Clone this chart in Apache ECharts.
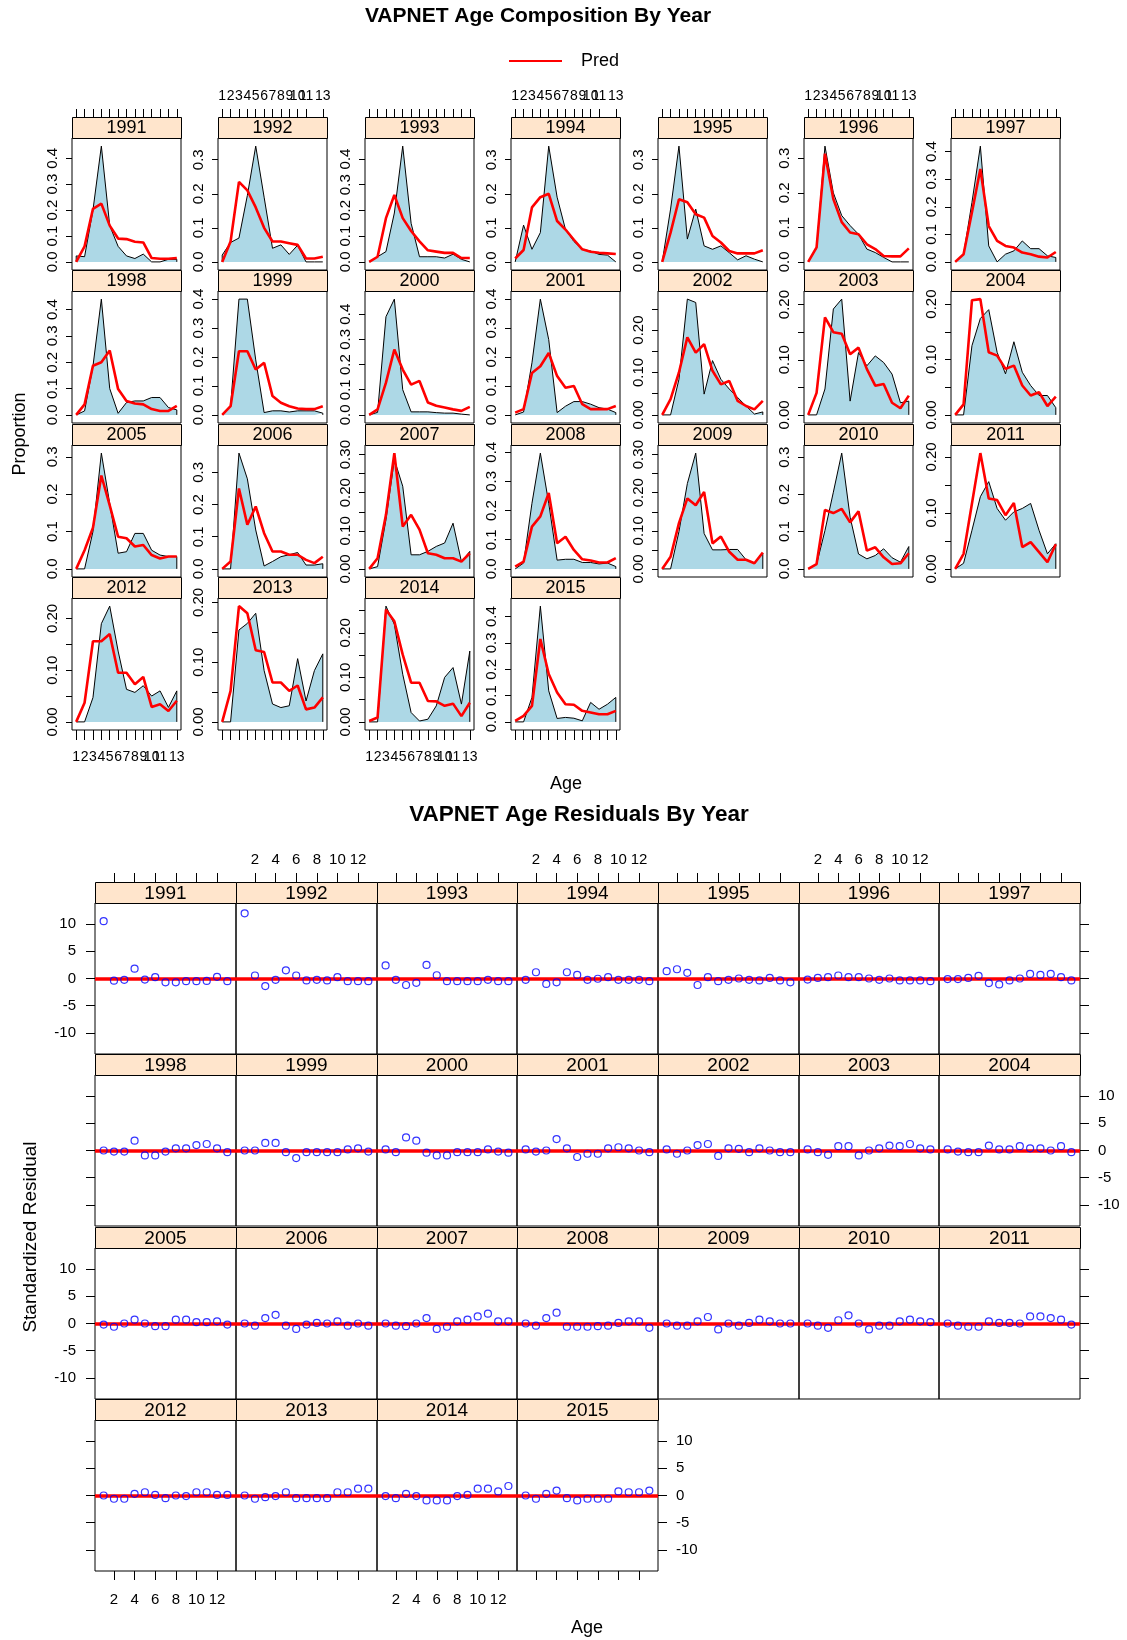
<!DOCTYPE html>
<html><head><meta charset="utf-8">
<script src="https://cdn.jsdelivr.net/npm/echarts@6/dist/echarts.min.js"></script>
<style>html,body{margin:0;padding:0;background:#fff}#c{width:1127px;height:1640px}</style>
</head><body><div id="c"></div>
<script>
// ---------------- DATA ----------------
const years = [1991,1992,1993,1994,1995,1996,1997,1998,1999,2000,2001,2002,2003,2004,2005,2006,2007,2008,2009,2010,2011,2012,2013,2014,2015];
const ages = [1,2,3,4,5,6,7,8,9,10,11,12,13];

// observed proportion at age, one row per year
const observed = [
  [0.023,0.02,0.2,0.447,0.14,0.06,0.023,0.013,0.03,0.0,0.0,0.01,0.01],      //1991
  [0.02,0.057,0.07,0.195,0.34,0.19,0.04,0.05,0.022,0.049,0.0,0.0,0.0],      //1992
  [0.0,0.02,0.04,0.19,0.45,0.15,0.02,0.02,0.02,0.015,0.03,0.01,0.0],        //1993
  [0.0,0.108,0.037,0.086,0.34,0.19,0.095,0.06,0.037,0.032,0.022,0.02,0.0],  //1994
  [0.0,0.155,0.34,0.067,0.155,0.047,0.037,0.047,0.027,0.006,0.018,0.008,0.0], //1995
  [0.0,0.04,0.335,0.2,0.134,0.105,0.08,0.037,0.027,0.013,0.0,0.0,0.0],      //1996
  [0.0,0.028,0.216,0.42,0.058,0.0,0.028,0.04,0.076,0.048,0.048,0.022,0.016],//1997
  [0.0,0.015,0.185,0.44,0.1,0.006,0.047,0.053,0.053,0.066,0.066,0.028,0.019], //1998
  [0.0,0.03,0.4,0.4,0.19,0.008,0.014,0.014,0.01,0.014,0.014,0.014,0.006],  //1999
  [0.0,0.01,0.39,0.46,0.1,0.012,0.012,0.012,0.009,0.007,0.007,0.003,0.0],  //2000
  [0.0,0.01,0.18,0.4,0.26,0.008,0.03,0.046,0.046,0.037,0.025,0.02,0.008],  //2001
  [0.0,0.0,0.084,0.273,0.265,0.049,0.128,0.084,0.061,0.041,0.021,0.002,0.007], //2002
  [0.0,0.0,0.047,0.192,0.21,0.025,0.113,0.089,0.107,0.095,0.074,0.022,0.025],  //2003
  [0.0,0.0,0.125,0.174,0.19,0.113,0.074,0.132,0.077,0.053,0.035,0.035,0.013],  //2004
  [0.0,0.0,0.1,0.31,0.175,0.042,0.046,0.095,0.095,0.05,0.037,0.033,0.033],   //2005
  [0.0,0.0,0.36,0.28,0.121,0.009,0.023,0.038,0.044,0.051,0.012,0.012,0.016], //2006
  [0.0,0.006,0.129,0.287,0.217,0.037,0.037,0.046,0.059,0.068,0.12,0.019,0.046], //2007
  [0.0,0.02,0.225,0.397,0.225,0.03,0.033,0.033,0.022,0.022,0.017,0.02,0.008],  //2008
  [0.0,0.0,0.098,0.224,0.304,0.093,0.05,0.05,0.051,0.051,0.024,0.015,0.041],   //2009
  [0.0,0.012,0.103,0.206,0.311,0.139,0.04,0.027,0.036,0.054,0.03,0.018,0.06],  //2010
  [0.0,0.01,0.069,0.129,0.156,0.108,0.087,0.102,0.108,0.117,0.069,0.027,0.045],//2011
  [0.0,0.0,0.047,0.19,0.224,0.137,0.063,0.057,0.07,0.05,0.06,0.028,0.06],     //2012
  [0.0,0.0,0.154,0.165,0.182,0.086,0.03,0.024,0.027,0.106,0.035,0.086,0.114], //2013
  [0.0,0.0,0.26,0.219,0.107,0.021,0.002,0.006,0.036,0.1,0.122,0.04,0.159],    //2014
  [0.0,0.0,0.093,0.44,0.118,0.013,0.017,0.014,0.004,0.074,0.048,0.067,0.093]  //2015
];

// predicted proportion at age, one row per year
const predicted = [
  [0.0,0.06,0.205,0.225,0.14,0.09,0.088,0.078,0.075,0.015,0.012,0.012,0.015], //1991
  [0.0,0.06,0.235,0.21,0.16,0.1,0.06,0.06,0.055,0.05,0.01,0.01,0.015],        //1992
  [0.0,0.02,0.17,0.26,0.17,0.12,0.08,0.045,0.04,0.035,0.035,0.015,0.015],     //1993
  [0.01,0.035,0.16,0.19,0.2,0.12,0.095,0.065,0.037,0.03,0.027,0.025,0.023],   //1994
  [0.0,0.086,0.184,0.175,0.14,0.13,0.076,0.057,0.032,0.025,0.025,0.025,0.034],//1995
  [0.0,0.042,0.313,0.182,0.115,0.085,0.08,0.051,0.037,0.017,0.016,0.016,0.039],//1996
  [0.0,0.028,0.18,0.337,0.13,0.076,0.058,0.052,0.034,0.028,0.019,0.016,0.036],//1997
  [0.0,0.04,0.187,0.2,0.245,0.098,0.053,0.043,0.04,0.022,0.015,0.015,0.034], //1998
  [0.0,0.03,0.22,0.22,0.157,0.18,0.065,0.042,0.03,0.022,0.02,0.02,0.03],     //1999
  [0.0,0.022,0.128,0.26,0.18,0.12,0.135,0.049,0.036,0.029,0.022,0.016,0.032],//2000
  [0.008,0.02,0.145,0.168,0.214,0.134,0.094,0.1,0.037,0.02,0.02,0.02,0.031], //2001
  [0.0,0.037,0.1,0.183,0.147,0.167,0.104,0.072,0.08,0.033,0.021,0.013,0.033],//2002
  [0.0,0.04,0.177,0.15,0.147,0.11,0.122,0.083,0.053,0.056,0.022,0.012,0.035],//2003
  [0.0,0.019,0.207,0.209,0.113,0.107,0.083,0.089,0.053,0.035,0.041,0.016,0.033],//2004
  [0.0,0.05,0.11,0.25,0.17,0.086,0.082,0.06,0.064,0.037,0.028,0.033,0.033],  //2005
  [0.0,0.023,0.25,0.137,0.194,0.111,0.054,0.054,0.044,0.044,0.028,0.018,0.038],//2006
  [0.0,0.028,0.142,0.304,0.111,0.142,0.103,0.041,0.037,0.028,0.028,0.019,0.041],//2007
  [0.008,0.025,0.145,0.18,0.26,0.088,0.11,0.065,0.033,0.029,0.022,0.022,0.037],//2008
  [0.0,0.032,0.12,0.185,0.167,0.202,0.067,0.085,0.045,0.024,0.024,0.015,0.043],//2009
  [0.0,0.013,0.158,0.15,0.161,0.125,0.155,0.049,0.058,0.031,0.013,0.015,0.042],//2010
  [0.0,0.027,0.117,0.207,0.126,0.123,0.096,0.118,0.039,0.048,0.03,0.012,0.044],//2011
  [0.0,0.037,0.156,0.156,0.17,0.095,0.095,0.073,0.087,0.029,0.034,0.021,0.041],//2012
  [0.0,0.052,0.194,0.182,0.12,0.117,0.066,0.066,0.052,0.061,0.021,0.024,0.041],//2013
  [0.002,0.01,0.252,0.226,0.151,0.088,0.088,0.047,0.046,0.036,0.041,0.013,0.043],//2014
  [0.004,0.023,0.061,0.315,0.182,0.112,0.067,0.065,0.042,0.036,0.029,0.029,0.042] //2015
];

// standardized residuals, one row per year
const residuals = [
  [10.55,-0.4,-0.25,1.8,-0.2,0.25,-0.7,-0.7,-0.5,-0.5,-0.45,0.3,-0.5],  //1991
  [12.0,0.55,-1.4,-0.25,1.5,0.55,-0.35,-0.25,-0.35,0.25,-0.5,-0.5,-0.5],//1992
  [2.4,-0.25,-1.2,-0.8,2.5,0.6,-0.5,-0.5,-0.5,-0.5,-0.25,-0.5,-0.5],    //1993
  [-0.25,1.15,-1.0,-0.7,1.15,0.65,-0.25,-0.05,0.25,-0.25,-0.25,-0.25,-0.5], //1994
  [1.35,1.7,1.05,-1.2,0.25,-0.5,-0.25,0.0,-0.25,-0.35,0.1,-0.35,-0.7],  //1995
  [-0.2,0.1,0.25,0.55,0.25,0.25,0.0,-0.25,0.0,-0.35,-0.35,-0.35,-0.5],  //1996
  [-0.1,-0.1,0.1,0.5,-0.85,-1.1,-0.35,0.0,0.85,0.65,0.85,0.25,-0.35],   //1997
  [0.0,-0.2,-0.2,1.8,-0.9,-0.9,-0.2,0.4,0.4,1.0,1.2,0.4,-0.3],          //1998
  [0.0,0.0,1.4,1.4,-0.3,-1.4,-0.3,-0.3,-0.3,-0.3,0.2,0.4,-0.2],         //1999
  [0.2,-0.3,2.4,1.8,-0.4,-0.9,-0.9,-0.3,-0.3,-0.3,0.2,-0.2,-0.4],       //2000
  [0.2,-0.2,0.0,2.1,0.4,-1.2,-0.6,-0.6,0.4,0.6,0.4,0.0,-0.3],           //2001
  [0.2,-0.6,0.0,1.0,1.2,-1.0,0.4,0.3,-0.3,0.4,0.0,-0.3,-0.3],           //2002
  [0.2,-0.3,-0.8,0.8,0.8,-0.9,0.0,0.4,0.9,0.8,1.2,0.4,0.2],             //2003
  [0.2,-0.2,-0.3,-0.3,0.9,0.2,0.2,0.8,0.4,0.4,0.0,0.8,-0.3],            //2004
  [-0.2,-0.6,0.0,0.7,0.0,-0.5,-0.5,0.7,0.7,0.25,0.25,0.4,-0.2],         //2005
  [0.0,-0.4,1.0,1.6,-0.4,-1.0,-0.2,0.1,0.0,0.4,-0.4,0.0,-0.4],          //2006
  [0.0,-0.4,-0.5,0.0,1.0,-1.0,-0.6,0.4,0.7,1.3,1.8,0.4,0.4],            //2007
  [0.0,-0.4,1.0,2.0,-0.6,-0.6,-0.6,-0.5,-0.4,0.1,0.4,0.4,-0.8],         //2008
  [0.0,-0.4,-0.4,0.4,1.2,-1.1,0.0,-0.4,0.1,0.7,0.4,0.0,0.0],            //2009
  [0.0,-0.4,-0.8,0.6,1.5,0.0,-1.1,-0.4,-0.4,0.4,0.7,0.4,0.25],          //2010
  [0.0,-0.4,-0.6,-0.6,0.4,0.1,0.1,0.0,1.3,1.3,1.0,0.7,-0.2],            //2011
  [0.0,-0.6,-0.6,0.3,0.6,0.1,-0.5,0.0,-0.1,0.6,0.6,0.1,0.1],            //2012
  [0.0,-0.6,-0.3,-0.1,0.6,-0.5,-0.5,-0.5,-0.5,0.6,0.6,1.25,1.25],       //2013
  [-0.1,-0.5,0.3,-0.1,-0.9,-0.9,-0.9,-0.1,0.1,1.25,1.25,0.75,1.75],     //2014
  [0.0,-0.6,0.3,0.9,-0.5,-0.9,-0.6,-0.6,-0.6,0.75,0.6,0.6,0.9]          //2015
];

// tick labels / steps
const propTickStep = [0.1,0.1,0.1,0.1,0.1,0.1,0.1, 0.1,0.1,0.1,0.1,0.05,0.05,0.05, 0.1,0.1,0.05,0.1,0.05,0.1,0.05, 0.05,0.05,0.05,0.1];
const residYTicks = [-10,-5,0,5,10];
const residXTicks = [2,4,6,8,10,12];
const residRange = [-13.9, 13.9];

// ---------------- LAYOUT ----------------
const FONT = '"Liberation Sans", Arial, Helvetica, sans-serif';
const NCOL = 7;
const TOP = {left:71.7, pitch:146.5, w:109, top:116.7, rowPitch:153.5, strip:21, h:132};
const RES = {left:95.1, colW:140.72, top:881.7, rowPitch:172.5, strip:21, h:151};
const nRows = Math.ceil(years.length / NCOL);

const option = {
  animation:false, backgroundColor:'#fff',
  grid:[], xAxis:[], yAxis:[], series:[], graphic:[],
  legend:{show:true, data:[{name:'Pred', icon:'rect'}], left:509, top:52, itemWidth:53, itemHeight:2, padding:0,
    textStyle:{fontSize:18, color:'#000', fontFamily:FONT, padding:[0,0,0,14]}, selectedMode:false}
};

function stripGraphic(x, y, w, h, label, fs){
  option.graphic.push({type:'rect', silent:true, z:50, shape:{x:x+0.5, y:y+0.5, width:w, height:h},
    style:{fill:'#FFE5CC', stroke:'#000', lineWidth:1}});
  option.graphic.push({type:'text', silent:true, z:51, x:x + w/2, y:y + h/2 + 1,
    style:{text:String(label), font:fs+'px '+FONT, fill:'#000', textAlign:'center', textVerticalAlign:'middle', align:'center', verticalAlign:'middle'}});
}
function textGraphic(str, x, y, fs, bold, rot){
  option.graphic.push({type:'text', silent:true, z:60, x:x, y:y, rotation:rot||0,
    style:{text:str, font:(bold?'bold ':'')+fs+'px '+FONT, fill:'#000', textAlign:'center', textVerticalAlign:'middle', align:'center', verticalAlign:'middle'}});
}

// ---------- Top: age composition ----------
years.forEach((yr, i) => {
  const r = Math.floor(i / NCOL), c = i % NCOL;
  const x = Math.round(TOP.left + c * TOP.pitch);
  const st = Math.round(TOP.top + r * TOP.rowPitch);
  const gt = st + TOP.strip;
  const gi = option.grid.length;
  option.grid.push({left:x, top:gt, width:TOP.w, height:TOP.h, show:true, borderColor:'#000', borderWidth:1,
    backgroundColor:'rgba(0,0,0,0)', containLabel:false, outerBoundsMode:'none'});
  stripGraphic(x, st, TOP.w, TOP.strip, yr, 18);

  const topRow = r === 0, botRow = r === nRows - 1;
  const labX = topRow ? (c % 2 === 1) : (botRow && c % 2 === 0);
  option.xAxis.push({gridIndex:gi, type:'value', min:0.5, max:13.5,
    position: topRow ? 'top' : 'bottom', offset: topRow ? TOP.strip : 0, show: topRow || botRow,
    axisLine:{show:false, onZero:false}, splitLine:{show:false},
    axisTick:{show:true, customValues:ages, length: topRow ? 8 : 10, lineStyle:{color:'#000', width:1}},
    axisLabel:{show:labX, customValues:ages, fontSize:14, fontFamily:FONT, color:'#000', margin: topRow ? 14 : 20,
      hideOverlap:false, showMinLabel:true, showMaxLabel:true}});

  const M = Math.max(...observed[i], ...predicted[i]);
  const step = propTickStep[i];
  const ymax = 1.07 * M, ymin = -0.07 * M;
  const ticks = [], labs = [];
  for (let k = 0; k * step <= ymax + 1e-9; k++) {
    const v = +(k * step).toFixed(2);
    ticks.push(v);
    if (step >= 0.1 || k % 2 === 0) labs.push(v);
  }
  const yi = option.yAxis.length;
  option.yAxis.push({gridIndex:gi, type:'value', min:ymin, max:ymax,
    axisLine:{show:false, onZero:false}, splitLine:{show:false},
    axisTick:{show:true, customValues:ticks, length:6, lineStyle:{color:'#000', width:1}},
    axisLabel:{customValues:labs, rotate:90, fontSize:15, fontFamily:FONT, color:'#000', margin:12, hideOverlap:false,
      showMinLabel:true, showMaxLabel:true,
      formatter: v => Number(v).toFixed(step < 0.1 ? 2 : 1)}});

  const obsPoly = [[ages[0], 0]].concat(ages.map((a, k) => [a, observed[i][k]])).concat([[ages[ages.length - 1], 0]]);
  option.series.push({type:'line', name:'Observed', xAxisIndex:gi, yAxisIndex:yi, data:obsPoly, symbol:'none', silent:true,
    lineStyle:{color:'#000', width:1}, areaStyle:{color:'#ADD8E6', opacity:1, origin:0}, color:'#000', z:2});
  option.series.push({type:'line', name:'Pred', xAxisIndex:gi, yAxisIndex:yi, data:ages.map((a, k) => [a, predicted[i][k]]),
    symbol:'none', silent:true, color:'#FF0000', lineStyle:{color:'#FF0000', width:2.6}, z:3});
});

// ---------- Bottom: residuals ----------
years.forEach((yr, i) => {
  const r = Math.floor(i / NCOL), c = i % NCOL;
  const x = Math.round(RES.left + c * RES.colW), x2 = Math.round(RES.left + (c + 1) * RES.colW);
  const st = Math.round(RES.top + r * RES.rowPitch);
  const gt = st + RES.strip;
  const gi = option.grid.length;
  option.grid.push({left:x, top:gt, width:x2 - x, height:RES.h, show:true, borderColor:'#000', borderWidth:1,
    backgroundColor:'rgba(0,0,0,0)', containLabel:false, outerBoundsMode:'none'});
  stripGraphic(x, st, x2 - x, RES.strip, yr, 19);

  const topRow = r === 0, botRow = r === nRows - 1;
  const labX = topRow ? (c % 2 === 1) : (botRow && c % 2 === 0);
  const xi = option.xAxis.length;
  option.xAxis.push({gridIndex:gi, type:'value', min:0.16, max:13.84,
    position: topRow ? 'top' : 'bottom', offset: topRow ? RES.strip : 0, show: topRow || botRow,
    axisLine:{show:false, onZero:false}, splitLine:{show:false},
    axisTick:{show:true, customValues:residXTicks, length:9, lineStyle:{color:'#000', width:1}},
    axisLabel:{show:labX, customValues:residXTicks, fontSize:15, fontFamily:FONT, color:'#000', margin: topRow ? 15 : 21,
      hideOverlap:false, showMinLabel:true, showMaxLabel:true}});

  const yi = option.yAxis.length;
  option.yAxis.push({gridIndex:gi, type:'value', position:'left', min:residRange[0], max:residRange[1], show: c === 0,
    axisLine:{show:false, onZero:false}, splitLine:{show:false},
    axisTick:{show:true, customValues:residYTicks, length:9, lineStyle:{color:'#000', width:1}},
    axisLabel:{show: r % 2 === 0, customValues:residYTicks, fontSize:15, fontFamily:FONT, color:'#000', margin:19,
      showMinLabel:true, showMaxLabel:true}});
  const rightEdge = (c === NCOL - 1) || (i === years.length - 1);
  if (rightEdge) {
    option.yAxis.push({gridIndex:gi, type:'value', position:'right', min:residRange[0], max:residRange[1], show:true,
      axisLine:{show:false, onZero:false}, splitLine:{show:false},
      axisTick:{show:true, customValues:residYTicks, length:9, lineStyle:{color:'#000', width:1}},
      axisLabel:{show: r % 2 === 1, customValues:residYTicks, fontSize:15, fontFamily:FONT, color:'#000', margin:18,
        showMinLabel:true, showMaxLabel:true}});
  }

  option.series.push({type:'scatter', name:'Residual', xAxisIndex:xi, yAxisIndex:yi,
    data: ages.map((a, k) => [a, residuals[i][k]]), symbol:'circle', symbolSize:7, silent:true, z:4,
    itemStyle:{color:'rgba(0,0,0,0)', borderColor:'#0000FF', borderWidth:1.2},
    markLine:{silent:true, z:1, symbol:['none','none'], label:{show:false}, animation:false,
      lineStyle:{color:'#FF0000', width:3.5, type:'solid', opacity:1}, emphasis:{disabled:true},
      data:[{yAxis:0}]}});
});

// ---------- titles ----------
textGraphic('VAPNET Age Composition By Year', 538, 16, 21, true);
textGraphic('Proportion', 20, 434, 18, false, Math.PI / 2);
textGraphic('Age', 566, 784, 18, false);
textGraphic('VAPNET Age Residuals By Year', 579, 815, 22.5, true);
textGraphic('Standardized Residual', 31, 1237, 19, false, Math.PI / 2);
textGraphic('Age', 587, 1628, 18, false);

const chart = echarts.init(document.getElementById('c'), null, {renderer:'canvas'});
chart.setOption(option);
</script></body></html>
